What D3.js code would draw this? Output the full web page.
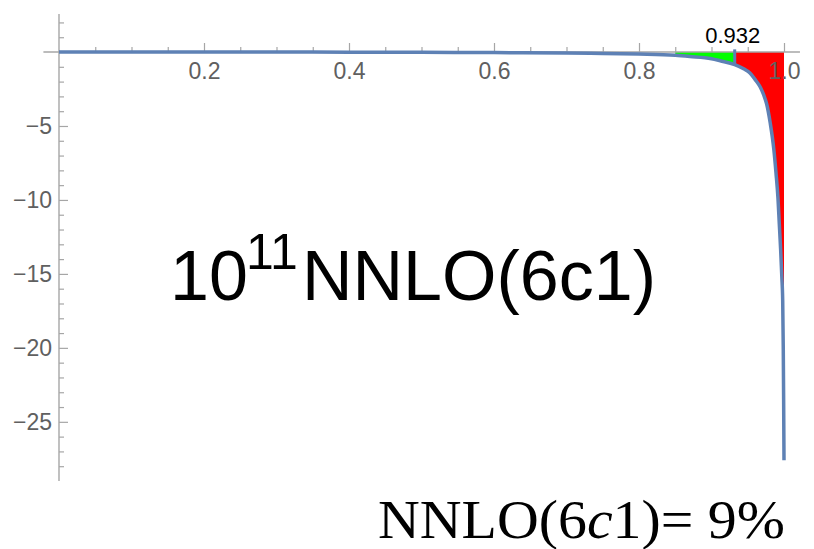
<!DOCTYPE html>
<html><head><meta charset="utf-8">
<script src="https://cdn.jsdelivr.net/npm/d3@7"></script>
<style>html,body{margin:0;padding:0;background:#fff;}svg{display:block;}</style>
</head><body>
<svg id="c" width="814" height="549"></svg>
<script>
// ---- data ----
const curveX = [0, 0.1, 0.2, 0.3, 0.4, 0.5, 0.6, 0.7, 0.75, 0.8, 0.85, 0.87, 0.9, 0.912, 0.932, 0.945, 0.953, 0.96, 0.967, 0.972, 0.976, 0.981, 0.986, 0.989, 0.9917, 0.9935, 0.9954, 0.997, 0.9982, 0.999, 0.9995, 1.0];
const curveY = [0, 0, 0, -0.005, -0.01, -0.02, -0.04, -0.07, -0.1, -0.14, -0.22, -0.3, -0.45, -0.59, -0.85, -1.15, -1.42, -1.85, -2.35, -2.9, -3.5, -4.8, -6.6, -8.2, -9.9, -11.6, -13.4, -15.2, -16.8, -20.1, -23.5, -27.6];
const splitX = 0.932;
const greenStart = 0.85;
const redEnd = 1.0;
const xTicksMajor = [0.2, 0.4, 0.6, 0.8, 1.0];
const yTicksMajor = [-5, -10, -15, -20, -25];
const splitLabel = "0.932";
const titleBase = "10", titleExp = "11", titleRest = "NNLO(6c1)";
const footer = ["NNLO(6", "c", "1)= 9%"];

// ---- scales ----
const svg = d3.select("#c");
const x = d3.scaleLinear().domain([0, 1]).range([59, 784]);
const y = d3.scaleLinear().domain([-29, 2.57]).range([481, 14]);
const pts = curveX.map((v, i) => ({x: v, y: curveY[i]}));
const fAt = v => { const i = curveX.indexOf(v); return curveY[i]; };

const area = d3.area().x(d => x(d.x)).y0(y(0)).y1(d => y(d.y)).curve(d3.curveMonotoneX);
svg.append("path").datum(pts.filter(d => d.x >= greenStart && d.x <= splitX))
  .attr("d", area).attr("fill", "#00ff00");
svg.append("path").datum(pts.filter(d => d.x >= splitX && d.x <= redEnd))
  .attr("d", area).attr("fill", "#ff0000");

// ---- axes ----
const axisCol = "#a6a6a6", labCol = "#606060";
const font = "'Liberation Sans', Arial, sans-serif";
svg.append("line").attr("x1", x(-0.0215)).attr("x2", x(1.022)).attr("y1", y(0)).attr("y2", y(0))
  .attr("stroke", axisCol).attr("stroke-width", 1.4);
svg.append("line").attr("x1", x(0)).attr("x2", x(0)).attr("y1", y(2.57)).attr("y2", y(-29))
  .attr("stroke", axisCol).attr("stroke-width", 1.4);

const xMinor = d3.range(1, 21).map(i => i * 0.05).filter(v => Math.abs(v * 5 - Math.round(v * 5)) > 1e-6);
const gxm = svg.append("g").attr("transform", `translate(0,${y(0)})`)
  .call(d3.axisBottom(x).tickValues(xMinor).tickSize(-5).tickFormat(""));
const gx = svg.append("g").attr("transform", `translate(0,${y(0)})`)
  .call(d3.axisBottom(x).tickValues(xTicksMajor).tickSize(-9).tickPadding(11).tickFormat(d3.format(".1f")));
const yMinor = d3.range(-28, 3).filter(v => v % 5 !== 0);
const gym = svg.append("g").attr("transform", `translate(${x(0)},0)`)
  .call(d3.axisLeft(y).tickValues(yMinor).tickSize(-5).tickFormat(""));
const gy = svg.append("g").attr("transform", `translate(${x(0)},0)`)
  .call(d3.axisLeft(y).tickValues(yTicksMajor).tickSize(-9).tickPadding(7));
[gxm, gx, gym, gy].forEach(g => {
  g.select(".domain").remove();
  g.selectAll("line").attr("stroke", axisCol).attr("stroke-width", 1.2);
  g.selectAll("text").attr("fill", labCol).style("font-family", font).style("font-size", "23px");
});

// ---- curve ----
const blue = "#5e81b5";
svg.append("line").attr("x1", x(splitX)).attr("x2", x(splitX)).attr("y1", y(0.18)).attr("y2", y(fAt(splitX)))
  .attr("stroke", blue).attr("stroke-width", 3);
const line = d3.line().x(d => x(d.x)).y(d => y(d.y)).curve(d3.curveMonotoneX);
svg.append("path").datum(pts).attr("d", line).attr("fill", "none")
  .attr("stroke", blue).attr("stroke-width", 3.5).attr("stroke-linejoin", "round");

// ---- texts ----
svg.append("text").attr("x", x(splitX) - 2).attr("y", 43).attr("text-anchor", "middle")
  .style("font-family", font).style("font-size", "22px").attr("fill", "#000").text(splitLabel);

svg.append("text").attr("x", 170).attr("y", 300).style("font-family", font).style("font-size", "70px")
  .attr("fill", "#000").text(titleBase);
svg.append("text").attr("x", 246).attr("y", 269).style("font-family", font).style("font-size", "50px")
  .attr("fill", "#000").text(titleExp);
svg.append("text").attr("x", 302).attr("y", 300).style("font-family", font).style("font-size", "70px")
  .attr("fill", "#000").text(titleRest);

const ft = svg.append("text").attr("x", 378).attr("y", 538)
  .style("font-family", "'Liberation Serif', 'DejaVu Serif', serif").style("font-size", "54px")
  .attr("fill", "#000").attr("textLength", 407).attr("lengthAdjust", "spacingAndGlyphs");
ft.append("tspan").text(footer[0]);
ft.append("tspan").style("font-style", "italic").text(footer[1]);
ft.append("tspan").text(footer[2]);
</script>
</body></html>
